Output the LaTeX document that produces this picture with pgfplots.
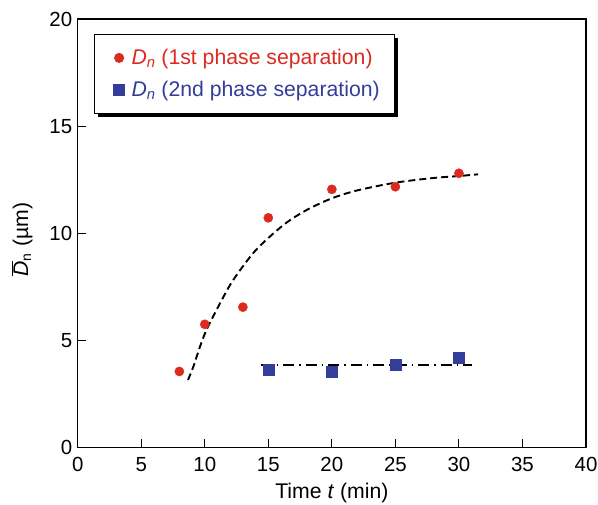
\documentclass[border=0pt]{standalone}
\usepackage{pgfplots}
\pgfplotsset{compat=1.18}
\usepackage{fontspec}
\setmainfont{Liberation Sans}
\usetikzlibrary{shadows}
\definecolor{dred}{RGB}{221,42,31}
\definecolor{dblue}{RGB}{52,62,154}
\newcommand{\fs}{\fontsize{20.5}{24}\selectfont}
\newcommand{\fl}{\fontsize{21.3}{25}\selectfont}
\pgfplotsset{mylegimg/.style={legend image code/.code={\path (0bp,0bp) (21bp,0bp); \draw[##1, only marks] plot coordinates {(11bp,0bp)};}}}
\begin{document}
\fs
\begin{tikzpicture}
\begin{axis}[
  at={(0,0)}, anchor=south west,
  scale only axis, width=508.3bp, height=428.5bp,
  xmin=0, xmax=40, ymin=0, ymax=20,
  xtick={0,5,...,40}, ytick={0,5,...,20},
  tick pos=left, tick align=inside, major tick length=8bp,
  every tick/.style={black, line width=1bp},
  axis line style={line width=1.1bp},
  /pgf/number format/assume math mode=true,
  tick label style={font=\fs},
  xticklabel style={yshift=-2.5bp},
  yticklabel style={xshift=1.5bp},
  label style={font=\fl},
  xlabel={Time \textit{t} (min)},
  ylabel={$\overline{\hbox{\textit{D}}}_{\hbox{\fontsize{14}{16}\selectfont n}}$ (µm)},
  xlabel style={at={(axis description cs:0.5,-0.107)}, anchor=center},
  ylabel style={at={(axis description cs:-0.1096,0.485)}, anchor=center, rotate=0},
  legend cell align=left,
  legend style={at={(axis description cs:0.0327,0.9643)}, anchor=north west,
    draw=black, line width=0.8bp, fill=white, font=\fl,
    drop shadow={shadow xshift=3.5bp, shadow yshift=-3.5bp, fill=black, opacity=1},
    row sep=10bp, inner xsep=13bp, inner ysep=12bp},
]
\addplot[only marks, mark=*, mark size=4.6bp, color=dred, mark options={draw=dred, fill=dred}, mylegimg]
  coordinates {(8,3.55) (10,5.75) (13,6.55) (15,10.72) (20,12.05) (25,12.17) (30,12.8)};
\addlegendentry{\color{dred}\textit{D}\textsubscript{\textit{n}} (1st phase separation)}
\addplot[only marks, mark=square*, mark size=5.5bp, color=dblue, mark options={draw=dblue, fill=dblue}, mylegimg]
  coordinates {(15,3.65) (20,3.52) (25,3.85) (30,4.17)};
\addlegendentry{\color{dblue}\textit{D}\textsubscript{\textit{n}} (2nd phase separation)}
\addplot[black, line width=1.9bp, dash pattern=on 7bp off 4bp, smooth, forget plot]
  coordinates {(8.68,3.15) (9.1,3.77) (9.62,4.70) (10.13,5.48) (11.2,6.73) (12.24,7.82) (14,9.2) (16.18,10.38) (18,11.08) (20,11.63) (22,12.0) (25,12.36) (28,12.58) (30,12.67) (31.5,12.75)};
\addplot[black, line width=1.5bp, dash pattern=on 11bp off 5bp on 1.5bp off 5bp, forget plot]
  coordinates {(14.4,3.85) (31,3.85)};
\end{axis}
\pgfresetboundingbox
\path[use as bounding box] (-77.7bp,-57.5bp) rectangle (520.3bp,447.5bp);
\end{tikzpicture}
\end{document}
